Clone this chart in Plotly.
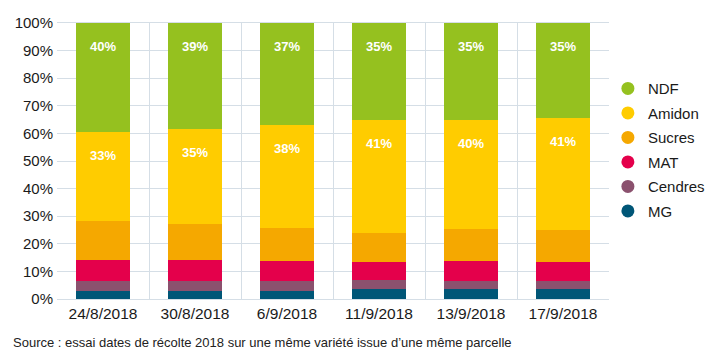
import plotly.graph_objects as go

dates = ["24/8/2018", "30/8/2018", "6/9/2018", "11/9/2018", "13/9/2018", "17/9/2018"]

mg = [3.0, 3.0, 3.0, 3.5, 3.5, 3.5]
cendres = [3.6, 3.6, 3.6, 3.5, 3.1, 3.1]
mat = [7.7, 7.7, 7.3, 6.5, 7.3, 6.9]
sucres = [13.8, 12.9, 11.9, 10.5, 11.6, 11.4]
amidon = [32.5, 34.4, 37.3, 41.0, 39.5, 40.8]
ndf = [39.4, 38.4, 36.9, 35.0, 35.0, 34.3]

amidon_labels = ["33%", "35%", "38%", "41%", "40%", "41%"]
ndf_labels = ["40%", "39%", "37%", "35%", "35%", "35%"]

series = [
    ("MG", mg, "#005677"),
    ("Cendres", cendres, "#8B516E"),
    ("MAT", mat, "#E4004B"),
    ("Sucres", sucres, "#F5A800"),
    ("Amidon", amidon, "#FFCC00"),
    ("NDF", ndf, "#95C11F"),
]

FONT = "Liberation Sans, Arial, sans-serif"

fig = go.Figure()
for name, vals, col in series:
    fig.add_trace(go.Bar(x=dates, y=vals, name=name, marker=dict(color=col, line=dict(width=0)),
                         showlegend=False, hoverinfo="skip"))

# legend with round markers (NDF on top)
for name, vals, col in reversed(series):
    fig.add_trace(go.Scatter(x=[None], y=[None], mode="markers", name=name, legendgroup=name,
                             marker=dict(symbol="circle", size=13, color=col)))

# value labels near top of NDF and Amidon segments
tops_amidon = [a + b + c + d + e for a, b, c, d, e in zip(mg, cendres, mat, sucres, amidon)]
tops_ndf = [t + n for t, n in zip(tops_amidon, ndf)]
for i, d in enumerate(dates):
    for top, lab in ((tops_ndf[i], ndf_labels[i]), (tops_amidon[i], amidon_labels[i])):
        fig.add_annotation(x=d, y=min(top, 100), text="<b>" + lab + "</b>", showarrow=False,
                           yanchor="top", yshift=-14, font=dict(family=FONT, size=13, color="white"))

fig.add_annotation(xref="paper", yref="paper", x=-0.0835, y=-0.159, xanchor="left", yanchor="middle",
                   text="Source : essai dates de récolte 2018 sur une même variété issue d’une même parcelle",
                   showarrow=False, font=dict(family=FONT, size=13, color="#222222"))

fig.update_layout(
    barmode="stack",
    bargap=0.405,
    width=714, height=361,
    margin=dict(l=57, r=105, t=23, b=62, autoexpand=False),
    paper_bgcolor="white", plot_bgcolor="white",
    font=dict(family=FONT, size=14, color="#1a1a1a"),
    legend=dict(x=0.998, y=0.822, xanchor="left", yanchor="top", traceorder="grouped",
                font=dict(family=FONT, size=15, color="#1a1a1a"), itemwidth=30,
                tracegroupgap=2, bgcolor="rgba(0,0,0,0)"),
    xaxis=dict(type="category", tickson="boundaries", showgrid=True, gridcolor="#D5DEE6",
               gridwidth=1, ticks="", showline=True, linecolor="#D5DEE6", mirror=True,
               automargin=False,
               tickfont=dict(family=FONT, size=15.5, color="#1a1a1a"), fixedrange=True),
    yaxis=dict(range=[0, 100], dtick=10, ticksuffix="%", showgrid=True, gridcolor="#D5DEE6",
               gridwidth=1, zeroline=False, showline=False, ticks="", automargin=False,
               ticklabelstandoff=3,
               tickfont=dict(family=FONT, size=15, color="#1a1a1a"), fixedrange=True),
)

fig.write_html("out.html", config={"displayModeBar": False},
               post_script="document.body.style.margin='0';document.body.style.overflow='hidden';")
